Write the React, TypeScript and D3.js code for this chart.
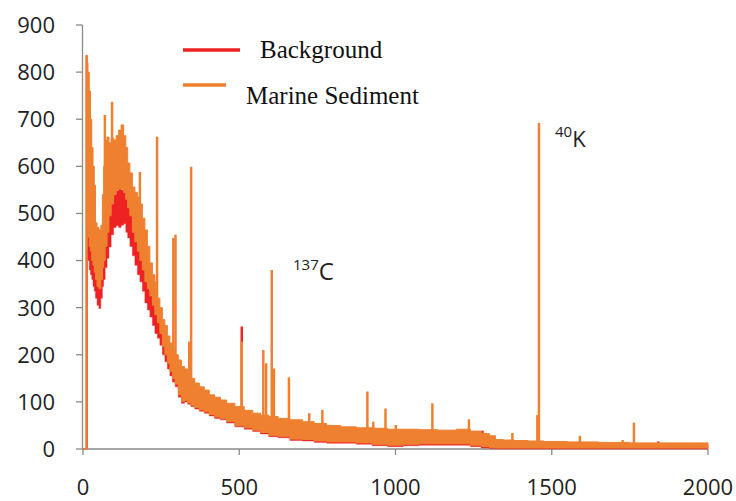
import React, { useEffect, useRef } from 'react';
import * as d3 from 'd3';

// channel grid used for the noisy envelopes
const channels = [0, 9, 10, 14, 18, 22, 26, 30, 34, 38, 42, 48, 54, 60, 64, 68, 74, 80, 86, 94, 102, 110, 118, 126, 134, 140, 146, 154, 162, 170, 178, 186, 194, 202, 210, 218, 226, 234, 242, 250, 258, 266, 274, 282, 290, 300, 310, 320, 330, 340, 350, 365, 380, 396, 412, 430, 449, 470, 502, 530, 556, 580, 609, 640, 684, 720, 760, 800, 850, 900, 950, 1000, 1050, 1100, 1170, 1220, 1260, 1290, 1310, 1330, 1360, 1400, 1450, 1500, 1600, 1700, 1800, 1900, 2000];

// Marine Sediment envelope (upper / lower)
const sedimentHigh = [0, 0, 836, 820, 800, 760, 700, 640, 600, 560, 480, 470, 465, 475, 540, 600, 655, 662, 650, 660, 656, 665, 677, 688, 665, 640, 607, 586, 556, 545, 535, 520, 490, 465, 430, 395, 370, 355, 320, 300, 275, 262, 240, 225, 212, 200, 189, 175, 170, 160, 150, 140, 132, 125, 115, 110, 104, 97, 90, 82, 76, 72, 69, 65, 62, 58, 54, 50, 47, 45, 44, 42, 42, 41, 40, 42, 38, 33, 28, 20, 19, 18, 17, 16, 15, 14, 13, 13, 13];
const sedimentLow = [0, 0, 0, 470, 450, 430, 420, 400, 390, 375, 360, 345, 340, 360, 385, 400, 430, 460, 495, 520, 540, 550, 552, 552, 545, 530, 512, 495, 460, 440, 420, 400, 380, 355, 340, 325, 305, 285, 268, 245, 218, 200, 182, 165, 150, 138, 115, 101, 103, 98, 93, 88, 83, 79, 73, 68, 65, 58, 50, 45, 40, 35, 29, 27, 21, 20, 17, 15, 15, 13, 10, 8, 10, 11, 11, 11, 8, 5, 3, 2, 2, 2, 2, 2, 2, 2, 2, 2, 2];

// Background envelope (upper / lower)
const backgroundHigh = [0, 0, 0, 420, 530, 460, 440, 420, 410, 395, 380, 365, 355, 375, 400, 420, 445, 470, 500, 520, 540, 548, 552, 550, 545, 532, 515, 500, 470, 450, 430, 410, 390, 365, 350, 335, 315, 295, 282, 265, 242, 222, 205, 188, 170, 155, 130, 115, 118, 113, 108, 102, 97, 93, 87, 82, 78, 72, 64, 59, 54, 49, 43, 41, 35, 34, 31, 29, 29, 27, 24, 22, 24, 25, 25, 25, 22, 18, 15, 12, 10, 10, 10, 10, 10, 10, 10, 10, 10];
const backgroundLow = [0, 0, 0, 420, 400, 380, 370, 360, 345, 335, 320, 305, 298, 320, 345, 360, 385, 405, 429, 455, 470, 474, 470, 475, 478, 460, 448, 430, 410, 390, 370, 355, 335, 310, 295, 280, 262, 245, 235, 220, 200, 185, 170, 155, 142, 132, 110, 97, 100, 95, 90, 85, 80, 76, 70, 65, 62, 55, 47, 42, 37, 32, 26, 24, 18, 17, 14, 12, 12, 10, 7, 5, 7, 8, 8, 8, 5, 2, 1, 0, 0, 0, 0, 0, 0, 0, 0, 0, 0];

// narrow peaks [channel, foot, counts]
const sedimentPeaks = [[12, 0, 836], [70, 400, 709], [93, 520, 737], [182, 420, 588], [237, 290, 663], [289, 165, 448], [296, 150, 455], [340, 105, 228], [346, 100, 599], [508, 55, 228], [577, 40, 210], [586, 38, 182], [604, 34, 380], [611, 33, 171], [659, 28, 152], [724, 24, 76], [766, 21, 83], [910, 17, 122], [929, 16, 58], [968, 14, 86], [1001, 12, 51], [1118, 15, 97], [1235, 15, 63], [1374, 2, 34], [1454, 2, 72], [1459, 2, 692], [1590, 2, 28], [1727, 2, 19], [1763, 2, 56]];
const backgroundPeaks = [[508, 50, 260], [1278, 2, 39], [1841, 0, 16]];

const xTicks = [0, 500, 1000, 1500, 2000];
const yTicks = [0, 100, 200, 300, 400, 500, 600, 700, 800, 900];
const seriesNames = ['Background', 'Marine Sediment'];

const RED = '#ee2222';
const ORANGE = '#ee8030';

const App = () => {
  const chartRef = useRef(null);

  useEffect(() => {
    drawChart();
  }, []);

  const drawChart = () => {
    const width = 736, height = 501;
    const x = d3.scaleLinear().domain([0, 2000]).range([83, 708]);
    const y = d3.scaleLinear().domain([0, 900]).range([449, 25]);

    d3.select(chartRef.current).select('svg').remove();

    const svg = d3.select(chartRef.current)
      .append('svg')
      .attr('width', width)
      .attr('height', height)
      .style('position', 'absolute')
      .style('left', 0)
      .style('top', 0)
      .style('background', '#fff');

    const band = (low, high) => d3.area()
      .x((d, i) => x(channels[i]))
      .y0((d, i) => y(low[i]))
      .y1((d, i) => y(high[i]))
      .curve(d3.curveStep);

    // axes
    const axisColor = '#8a8a8a';
    svg.append('line')
      .attr('x1', 82.5).attr('x2', 82.5)
      .attr('y1', y(900)).attr('y2', y(0))
      .style('stroke', axisColor).style('stroke-width', 1.3);
    svg.append('line')
      .attr('x1', 82).attr('x2', x(2000))
      .attr('y1', y(0)).attr('y2', y(0))
      .style('stroke', axisColor).style('stroke-width', 1.3);

    yTicks.forEach(t => {
      svg.append('line')
        .attr('x1', 76).attr('x2', 82.5)
        .attr('y1', y(t)).attr('y2', y(t))
        .style('stroke', axisColor).style('stroke-width', 1.3);
      svg.append('text')
        .attr('x', 55)
        .attr('y', y(t))
        .attr('dy', '0.36em')
        .attr('text-anchor', 'end')
        .style('font-family', 'Open Sans')
        .style('font-size', '22px')
        .style('fill', '#222')
        .text(t);
    });

    xTicks.forEach(t => {
      svg.append('line')
        .attr('x1', x(t)).attr('x2', x(t))
        .attr('y1', y(0)).attr('y2', y(0) + 6)
        .style('stroke', axisColor).style('stroke-width', 1.3);
      svg.append('text')
        .attr('x', x(t))
        .attr('y', 495)
        .attr('text-anchor', 'middle')
        .style('font-family', 'Open Sans')
        .style('font-size', '22px')
        .style('fill', '#222')
        .text(t);
    });

    const peakLine = (peaks, color) => {
      peaks.forEach(([c, foot, v]) => {
        svg.append('line')
          .attr('x1', x(c)).attr('x2', x(c))
          .attr('y1', y(foot)).attr('y2', y(v))
          .style('stroke', color)
          .style('stroke-width', 2.5);
      });
    };

    // spectra: red below orange
    peakLine(backgroundPeaks, RED);
    peakLine(sedimentPeaks, ORANGE);

    svg.append('path')
      .attr('d', band(backgroundLow, backgroundHigh)(channels))
      .style('fill', RED)
      .style('stroke', RED)
      .style('stroke-width', 0.4);

    svg.append('path')
      .attr('d', band(sedimentLow, sedimentHigh)(channels))
      .style('fill', ORANGE)
      .style('stroke', ORANGE)
      .style('stroke-width', 1);

    // legend
    const legend = [
      { name: seriesNames[0], color: RED, x1: 183, x2: 240, ly: 50, tx: 260, ty: 58 },
      { name: seriesNames[1], color: ORANGE, x1: 183, x2: 226, ly: 85, tx: 246, ty: 104 }
    ];
    legend.forEach(l => {
      svg.append('line')
        .attr('x1', l.x1).attr('x2', l.x2)
        .attr('y1', l.ly).attr('y2', l.ly)
        .style('stroke', l.color)
        .style('stroke-width', 3.5);
      svg.append('text')
        .attr('x', l.tx)
        .attr('y', l.ty)
        .style('font-family', 'Liberation Serif')
        .style('font-size', '25px')
        .style('fill', '#111')
        .text(l.name);
    });

    // isotope labels
    const isotope = (mass, sym, tx, ty, big) => {
      const t = svg.append('text')
        .attr('x', tx)
        .attr('y', ty)
        .style('font-family', 'Open Sans')
        .style('fill', '#222');
      t.append('tspan').style('font-size', '15px').attr('dy', -10).text(mass);
      t.append('tspan').style('font-size', big + 'px').attr('dy', 10).text(sym);
    };
    isotope('137', 'C', 293, 280, 24);
    isotope('40', 'K', 555, 147, 22);
  };

  return (
    <div ref={chartRef}></div>
  );
};

export default App;
